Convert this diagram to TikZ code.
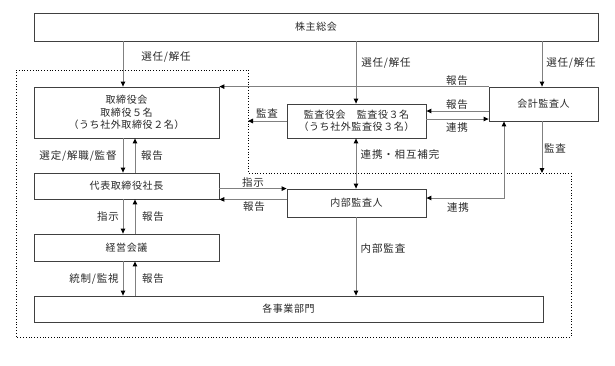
\documentclass[tikz,border=0pt]{standalone}
\usepackage{fontspec}
\setmainfont{Noto Sans CJK JP}
\usetikzlibrary{arrows.meta}
\definecolor{linegray}{RGB}{128,128,128}
\definecolor{boxgray}{RGB}{64,64,64}
\definecolor{textgray}{RGB}{40,40,40}
\tikzstyle{box}=[draw=boxgray, line width=0.8pt, align=center, inner sep=0pt, text=textgray, font=\fontsize{10}{12.5}\selectfont\addfontfeatures{LetterSpace=6}]
\tikzstyle{lab}=[inner sep=0pt, text=textgray, font=\fontsize{10.5}{12}\selectfont\addfontfeatures{LetterSpace=8}]
\tikzstyle{arr}=[draw=linegray, line width=0.9pt, -{Triangle[length=5pt,width=4.5pt,black]}]
\tikzstyle{biarr}=[draw=linegray, line width=0.9pt, {Triangle[length=5pt,width=4.5pt,black]}-{Triangle[length=5pt,width=4.5pt,black]}]

\begin{document}
\begin{tikzpicture}[x=1pt, y=-1pt]
				\useasboundingbox (0,0) rectangle (615,365);
				% dotted area
				\draw[black, dotted, line width=0.8pt] (16,70) -- (248,70) -- (248,173) -- (571,173) -- (571,337) -- (16,337) -- cycle;
				% boxes
				\node[box, minimum width=564, minimum height=28] (kabu) at (316,27) {株主総会};
				\node[box, minimum width=185, minimum height=51] (torishimari) at (126.5,112.5) {取締役会\\取締役５名\\（うち社外取締役２名）};
				\node[box, minimum width=139, minimum height=34] (kansayaku) at (356.5,121) {監査役会　監査役３名\\（うち社外監査役３名）};
				\node[box, minimum width=109, minimum height=34] (kaikei) at (543.5,104) {会計監査人};
				\node[box, minimum width=185, minimum height=26] (daihyo) at (126.5,186) {代表取締役社長};
				\node[box, minimum width=139, minimum height=28] (naibu) at (356.5,203) {内部監査人};
				\node[box, minimum width=185, minimum height=27] (keiei) at (126.5,247.5) {経営会議};
				\node[box, minimum width=509, minimum height=26] (jigyo) at (288.5,309) {各事業部門};
				% columns and rows
				\coordinate (colA) at (123,0);
				\coordinate (colB) at (135,0);
				\coordinate (colC) at (356,0);
				\coordinate (colD) at (542,0);
				\coordinate (colE) at (504,0);
				\coordinate (rowA) at (0,111);
				\coordinate (rowB) at (0,119);
				\coordinate (rowC) at (0,198);
				\coordinate (kansaEnd) at (248,121);
				\coordinate (kaikeiEnd) at (542,173);
				% connectors
				\draw[arr] (kabu.south -| colA) -- (torishimari.north -| colA);
				\draw[arr] (kabu.south -| colC) -- (kansayaku.north -| colC);
				\draw[arr] (kabu.south -| colD) -- (kaikei.north -| colD);
				\draw[arr] (kaikei.north west) -- (torishimari.north east);
				\draw[arr] (kaikei.west |- rowA) -- (kansayaku.east |- rowA);
				\draw[arr] (kansayaku.east |- rowB) -- (kaikei.west |- rowB);
				\draw[arr] (kansayaku.west) -- (kansaEnd);
				\draw[arr] (kaikei.south -| colD) -- (kaikeiEnd);
				\draw[arr] (torishimari.south -| colA) -- (daihyo.north -| colA);
				\draw[arr] (daihyo.north -| colB) -- (torishimari.south -| colB);
				\draw[arr] (daihyo.south -| colA) -- (keiei.north -| colA);
				\draw[arr] (keiei.north -| colB) -- (daihyo.south -| colB);
				\draw[arr] (keiei.south -| colA) -- (jigyo.north -| colA);
				\draw[arr] (jigyo.north -| colB) -- (keiei.south -| colB);
				\draw[arr] (daihyo.east |- naibu.north) -- (naibu.north west);
				\draw[arr] (naibu.west |- daihyo.south) -- (daihyo.south east);
				\draw[biarr] (kansayaku.south -| colC) -- (naibu.north -| colC);
				\draw[biarr] (kaikei.south -| colE) |- (naibu.east |- rowC);
				\draw[arr] (naibu.south -| colC) -- (jigyo.north -| colC);
				% labels
				\node[lab] (senA) at (166,57) {選任/解任};
				\node[lab] (senB) at (386,63) {選任/解任};
				\node[lab] (senC) at (571,63) {選任/解任};
				\node[lab] (hokokuA) at (457,81) {報告};
				\node[lab] (hokokuB) at (457,105) {報告};
				\node[lab] (renkeiA) at (457,128) {連携};
				\node[lab] (kansaA) at (267,113) {監査};
				\node[lab] (sentei) at (78,156) {選定/解職/監督};
				\node[lab] (hokokuC) at (152,156) {報告};
				\node[lab] (sogo) at (400,155) {連携・相互補完};
				\node[lab] (kansaB) at (555,148) {監査};
				\node[lab] (shijiA) at (253,183) {指示};
				\node[lab] (hokokuD) at (254,207) {報告};
				\node[lab] (shijiB) at (108,217) {指示};
				\node[lab] (hokokuE) at (153,217) {報告};
				\node[lab] (tosei) at (94,279) {統制/監視};
				\node[lab] (hokokuF) at (153,279) {報告};
				\node[lab] (renkeiB) at (458,208) {連携};
				\node[lab] (naibuKansa) at (383,249) {内部監査};
			\end{tikzpicture}
\end{document}
